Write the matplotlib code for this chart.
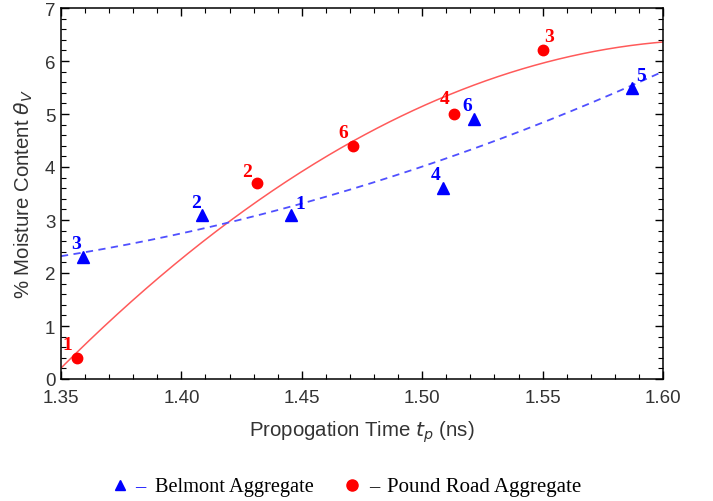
import numpy as np
import matplotlib
matplotlib.use('Agg')
import matplotlib.pyplot as plt
from matplotlib.ticker import MultipleLocator, FormatStrFormatter
from matplotlib.lines import Line2D

# Belmont aggregate (triangles)
belmont_t = [1.4455, 1.4086, 1.359, 1.5086, 1.587, 1.5215]
belmont_m = [3.1, 3.1, 2.3, 3.6, 5.5, 4.9]
belmont_ids = ['1', '2', '3', '4', '5', '6']

# Pound Road aggregate (circles)
pound_t = [1.3566, 1.4314, 1.550, 1.5132, 1.4713]
pound_m = [0.4, 3.7, 6.2, 5.0, 4.4]
pound_ids = ['1', '2', '3', '4', '6']

# label offsets in points (dx, dy)
belmont_off = [(6.5, 8), (-4.5, 8.5), (-5, 10), (-5, 10), (6.5, 8.5), (-5, 10)]
pound_off = [(-7, 9.5), (-7, 8.5), (5, 10), (-6.5, 11.5), (-7, 9.5)]

BLUE = '#0000ff'
RED = '#ff0000'

plt.rcParams['font.family'] = ['Liberation Sans', 'DejaVu Sans']
plt.rcParams['mathtext.fontset'] = 'dejavusans'

fig = plt.figure(figsize=(7.13, 5.02), dpi=100)
ax = fig.add_axes([61 / 713, 1 - 380 / 502, 602 / 713, 371 / 502])

# quadratic fits through each set
tt = np.linspace(1.35, 1.60, 300)
cb = np.polyfit(belmont_t, belmont_m, 2)
cp = np.polyfit(pound_t, pound_m, 2)
ax.plot(tt, np.polyval(cp, tt), color='#ff5a5a', lw=1.1, zorder=2)
ax.plot(tt, np.polyval(cb, tt), color='#5050ff', lw=1.3, ls=(0, (4, 3)), zorder=2)

ax.plot(belmont_t, belmont_m, '^', color=BLUE, ms=9, zorder=3)
ax.plot(pound_t, pound_m, 'o', color=RED, ms=7.5, zorder=3)

for x, y, s, o in zip(belmont_t, belmont_m, belmont_ids, belmont_off):
    ax.annotate(s, (x, y), xytext=o, textcoords='offset points', ha='center', va='center',
                color=BLUE, fontsize=14, fontweight='bold', family='Liberation Serif')
for x, y, s, o in zip(pound_t, pound_m, pound_ids, pound_off):
    ax.annotate(s, (x, y), xytext=o, textcoords='offset points', ha='center', va='center',
                color=RED, fontsize=14, fontweight='bold', family='Liberation Serif')

ax.set_xlim(1.35, 1.60)
ax.set_ylim(0, 7)
ax.xaxis.set_major_locator(MultipleLocator(0.05))
ax.xaxis.set_minor_locator(MultipleLocator(0.01))
ax.yaxis.set_major_locator(MultipleLocator(1))
ax.yaxis.set_minor_locator(MultipleLocator(0.2))
ax.xaxis.set_major_formatter(FormatStrFormatter('%.2f'))
ax.tick_params(which='both', direction='in', top=True, right=True, labelsize=13.5,
               labelcolor='#333333')
ax.tick_params(axis='x', which='major', pad=7)
ax.tick_params(axis='y', which='major', pad=4)
ax.tick_params(which='major', length=6, width=1)
ax.tick_params(which='minor', length=3.5, width=0.8)
for sp in ax.spines.values():
    sp.set_linewidth(1.1)

ax.set_xlabel(r'Propogation Time $t_p$ (ns)', fontsize=14.7, color='#333333', labelpad=9)
ax.set_ylabel(r'% Moisture Content $\theta_V$', fontsize=14.7, color='#333333', labelpad=7)

# legend row below the axes
ly = 1 - 492 / 502
lfont = {'family': 'Liberation Serif', 'size': 14.7}
fig.add_artist(Line2D([120 / 713], [ly + 6 / 502], marker='^', ms=7, color=BLUE,
                      transform=fig.transFigure))
fig.text(135 / 713, ly, '\u2013', color=BLUE, va='baseline', **lfont)
fig.text(155 / 713, ly, 'Belmont Aggregate', color='black', va='baseline', **lfont)
fig.add_artist(Line2D([352 / 713], [ly + 6 / 502], marker='o', ms=8, color=RED,
                      transform=fig.transFigure))
fig.text(369 / 713, ly, '\u2013', color='black', va='baseline', **lfont)
fig.text(387 / 713, ly, 'Pound Road Aggregate', color='black', va='baseline',
         family='Liberation Serif', size=15)

fig.savefig('out.png', dpi=100)
